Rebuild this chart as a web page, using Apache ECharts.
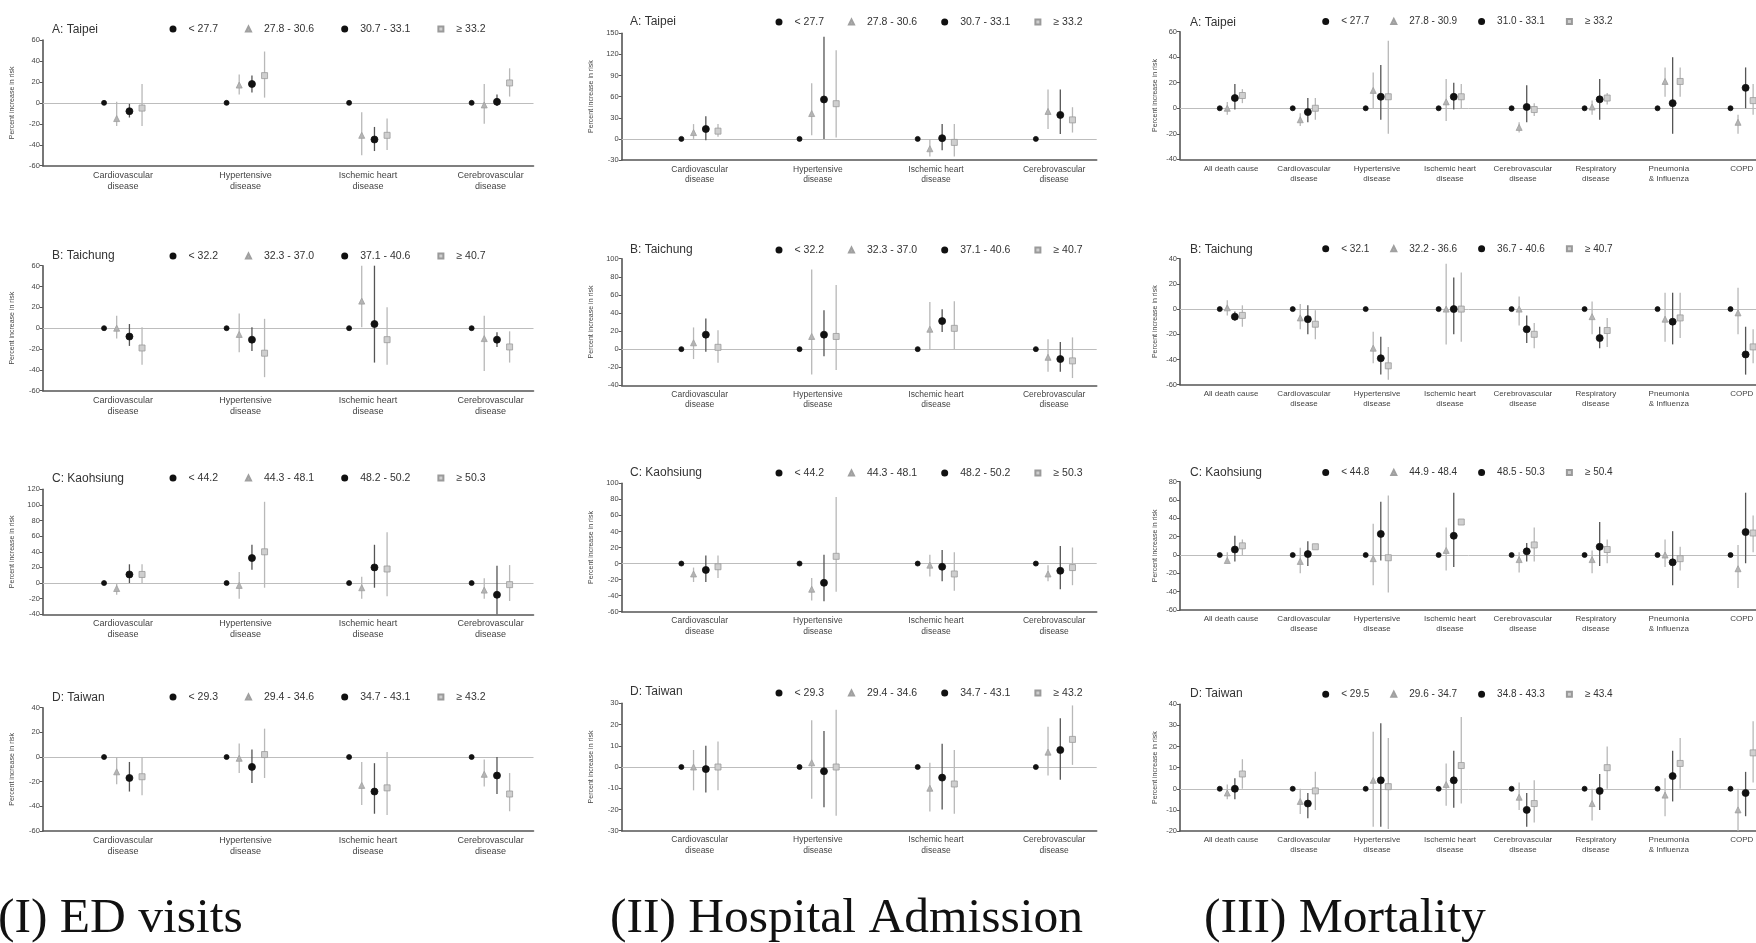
<!DOCTYPE html>
<html>
<head>
<meta charset="utf-8">
<script src="https://cdn.jsdelivr.net/npm/echarts@6/dist/echarts.min.js"></script>
<style>html,body{margin:0;padding:0;background:#fff}#c{width:1756px;height:943px}</style>
</head>
<body>
<div id="c"></div>
<script>
// ---------- categories ----------
const CATS_4 = ['Cardiovascular\ndisease', 'Hypertensive\ndisease', 'Ischemic heart\ndisease', 'Cerebrovascular\ndisease'];
const CATS_8 = ['All death cause', 'Cardiovascular\ndisease', 'Hypertensive\ndisease', 'Ischemic heart\ndisease',
  'Cerebrovascular\ndisease', 'Respiratory\ndisease', 'Pneumonia\n& Influenza', 'COPD'];

// ---------- legend labels (temperature groups) ----------
const LEG_A_ED = ['< 27.7', '27.8 - 30.6', '30.7 - 33.1', '\u2265 33.2'];
const LEG_A_MORT = ['< 27.7', '27.8 - 30.9', '31.0 - 33.1', '\u2265 33.2'];
const LEG_B_ED = ['< 32.2', '32.3 - 37.0', '37.1 - 40.6', '\u2265 40.7'];
const LEG_B_MORT = ['< 32.1', '32.2 - 36.6', '36.7 - 40.6', '\u2265 40.7'];
const LEG_C_ED = ['< 44.2', '44.3 - 48.1', '48.2 - 50.2', '\u2265 50.3'];
const LEG_C_MORT = ['< 44.8', '44.9 - 48.4', '48.5 - 50.3', '\u2265 50.4'];
const LEG_D_ED = ['< 29.3', '29.4 - 34.6', '34.7 - 43.1', '\u2265 43.2'];
const LEG_D_MORT = ['< 29.5', '29.6 - 34.7', '34.8 - 43.3', '\u2265 43.4'];

// ---------- (I) ED visits: estimate / lower / upper, per category [g1,g2,g3,g4] ----------
const ED_A_EST = [[0,-15,-8,-5],[0,17,18,26],[0,-31,-35,-31],[0,-2,1,19]];
const ED_A_LO  = [[null,-22,-14,-22],[null,8,10,5],[null,-50,-46,-45],[null,-20,-3,6]];
const ED_A_HI  = [[null,1,-1,18],[null,27,26,49],[null,-9,-23,-15],[null,18,8,33]];
const ED_B_EST = [[0,0,-8,-19],[0,-6,-11,-24],[0,26,4,-11],[0,-10,-11,-18]];
const ED_B_LO  = [[null,-10,-17,-35],[null,-23,-22,-47],[null,1,-33,-35],[null,-41,-18,-33]];
const ED_B_HI  = [[null,12,4,1],[null,14,1,9],[null,60,60,20],[null,12,-4,-3]];
const ED_C_EST = [[0,-7,11,11],[0,-3,32,40],[0,-6,20,18],[0,-9,-15,-2]];
const ED_C_LO  = [[null,-15,0,0],[null,-20,17,-6],[null,-20,-6,-17],[null,-20,-40,-23]];
const ED_C_HI  = [[null,-1,24,24],[null,14,49,104],[null,8,49,65],[null,6,22,23]];
const ED_D_EST = [[0,-12,-17,-16],[0,-1,-8,2],[0,-23,-28,-25],[0,-14,-15,-30]];
const ED_D_LO  = [[null,-22,-28,-31],[null,-13,-21,-17],[null,-39,-46,-47],[null,-24,-30,-44]];
const ED_D_HI  = [[null,0,-4,0],[null,11,6,23],[null,-4,-5,4],[null,-2,0,-13]];

// ---------- (II) Hospital admission ----------
const HA_A_EST = [[0,9,14,11],[0,36,56,50],[0,-14,1,-5],[0,39,34,27]];
const HA_A_LO  = [[null,0,-2,3],[null,5,0,2],[null,-25,-16,-25],[null,14,7,9]];
const HA_A_HI  = [[null,21,32,21],[null,79,145,126],[null,0,21,21],[null,70,70,45]];
const HA_B_EST = [[0,7,16,2],[0,14,16,14],[0,22,31,23],[0,-9,-11,-13]];
const HA_B_LO  = [[null,-11,-3,-15],[null,-28,-8,-23],[null,-1,19,0],[null,-25,-25,-32]];
const HA_B_HI  = [[null,24,34,21],[null,88,43,71],[null,52,44,53],[null,11,8,13]];
const HA_C_EST = [[0,-13,-8,-4],[0,-32,-24,9],[0,-2,-4,-13],[0,-13,-9,-5]];
const HA_C_LO  = [[null,-23,-23,-18],[null,-46,-47,-35],[null,-16,-22,-34],[null,-22,-32,-27]];
const HA_C_HI  = [[null,-5,10,10],[null,-18,11,83],[null,11,17,14],[null,-2,22,20]];
const HA_D_EST = [[0,0,-1,0],[0,2,-2,0],[0,-10,-5,-8],[0,7,8,13]];
const HA_D_LO  = [[null,-11,-12,-11],[null,-15,-19,-23],[null,-21,-20,-22],[null,-4,-6,1]];
const HA_D_HI  = [[null,8,10,12],[null,22,17,27],[null,2,11,8],[null,19,23,29]];

// ---------- (III) Mortality ----------
const MO_A_EST = [[0,0,8,10],[0,-9,-3,0],[0,14,9,9],[0,5,9,9],[0,-15,1,-1],[0,1,7,8],[0,21,4,21],[0,-11,16,6]];
const MO_A_LO  = [[null,-5,-1,4],[null,-14,-11,-9],[null,0,-9,-20],[null,-10,-1,0],[null,-19,-11,-6],[null,-5,-9,3],[null,9,-20,9],[null,-20,0,-5]];
const MO_A_HI  = [[null,5,19,15],[null,-4,8,8],[null,28,34,53],[null,23,20,19],[null,-11,18,4],[null,6,23,12],[null,32,40,32],[null,-5,32,19]];
const MO_B_EST = [[0,1,-6,-5],[0,-7,-8,-12],[0,-31,-39,-45],[0,0,0,0],[0,0,-16,-20],[0,-6,-23,-17],[0,-8,-10,-7],[0,-3,-36,-30]];
const MO_B_LO  = [[null,-5,-9,-14],[null,-16,-20,-24],[null,-43,-52,-56],[null,-28,-20,-26],[null,-13,-27,-31],[null,-20,-31,-30],[null,-26,-28,-23],[null,-20,-52,-43]];
const MO_B_HI  = [[null,7,-2,3],[null,4,3,-1],[null,-18,-22,-30],[null,36,25,29],[null,10,-5,-11],[null,6,-14,-7],[null,13,13,13],[null,17,-14,-16]];
const MO_C_EST = [[0,-6,6,10],[0,-7,1,9],[0,-4,23,-3],[0,5,21,36],[0,-5,4,11],[0,-5,9,6],[0,0,-8,-4],[0,-15,25,24]];
const MO_C_LO  = [[null,-9,-7,0],[null,-20,-12,7],[null,-33,-6,-41],[null,-17,-13,34],[null,-19,-7,-7],[null,-20,-12,-9],[null,-13,-33,-17],[null,-36,-9,3]];
const MO_C_HI  = [[null,3,21,17],[null,8,15,11],[null,34,58,65],[null,30,68,38],[null,3,13,30],[null,5,36,17],[null,17,26,9],[null,11,68,43]];
const MO_D_EST = [[0,-2,0,7],[0,-6,-7,-1],[0,4,4,1],[0,2,4,11],[0,-4,-10,-7],[0,-7,-1,10],[0,-3,6,12],[0,-10,-2,17]];
const MO_D_LO  = [[null,-5,-5,0],[null,-12,-14,-10],[null,-18,-18,-19],[null,-8,-9,-7],[null,-10,-18,-16],[null,-15,-10,0],[null,-13,-6,0],[null,-20,-13,3]];
const MO_D_HI  = [[null,2,5,14],[null,0,-2,8],[null,27,31,24],[null,12,18,34],[null,3,-2,4],[null,0,7,20],[null,5,18,24],[null,0,8,32]];

// y-axis ranges [min, max, interval]
const Y_RANGES = [
  [[-60,60,20],[-60,60,20],[-40,120,20],[-60,40,20]],
  [[-30,150,30],[-40,100,20],[-60,100,20],[-30,30,10]],
  [[-40,60,20],[-60,40,20],[-60,80,20],[-20,40,10]]
];
const TITLES = ['A: Taipei', 'B: Taichung', 'C: Kaohsiung', 'D: Taiwan'];
const FOOTERS = ['(I) ED visits', '(II) Hospital Admission', '(III) Mortality'];

const PANELS = [
  [[ED_A_EST,ED_A_LO,ED_A_HI,LEG_A_ED],[ED_B_EST,ED_B_LO,ED_B_HI,LEG_B_ED],[ED_C_EST,ED_C_LO,ED_C_HI,LEG_C_ED],[ED_D_EST,ED_D_LO,ED_D_HI,LEG_D_ED]],
  [[HA_A_EST,HA_A_LO,HA_A_HI,LEG_A_ED],[HA_B_EST,HA_B_LO,HA_B_HI,LEG_B_ED],[HA_C_EST,HA_C_LO,HA_C_HI,LEG_C_ED],[HA_D_EST,HA_D_LO,HA_D_HI,LEG_D_ED]],
  [[MO_A_EST,MO_A_LO,MO_A_HI,LEG_A_MORT],[MO_B_EST,MO_B_LO,MO_B_HI,LEG_B_MORT],[MO_C_EST,MO_C_LO,MO_C_HI,LEG_C_MORT],[MO_D_EST,MO_D_LO,MO_D_HI,LEG_D_MORT]]
];
const COL_CATS = [CATS_4, CATS_4, CATS_8];

// ---------- layout & style (not data) ----------
const COLS = [
  {left: 42.8, width: 490.7, xmin: 0.345, xmax: 4.35, titleX: 52, legX: 169, legGap: 26, legFont: 10.5, catFont: 9, nameGap: 27, footX: -2},
  {left: 621.7, width: 475, xmin: 0.34, xmax: 4.36, titleX: 630, legX: 775, legGap: 23, legFont: 10.5, catFont: 8.5, nameGap: 27, footX: 610},
  {left: 1180, width: 591, xmin: 0.30, xmax: 8.40, titleX: 1190, legX: 1321.7, legGap: 20, legFont: 10, catFont: 8, nameGap: 21, footX: 1204}
];
const ROWS = [
  [{top:40,h:125.7,ty:31,ly:26},{top:265.7,h:125,ty:257,ly:253},{top:489.3,h:125,ty:480,ly:475},{top:707.7,h:123.3,ty:699,ly:694}],
  [{top:33.3,h:126.7,ty:22.5,ly:19},{top:258.7,h:126.6,ty:250.5,ly:247},{top:483.3,h:128.4,ty:474,ly:470},{top:703.3,h:127.4,ty:693,ly:690}],
  [{top:31.7,h:127.6,ty:23.5,ly:19},{top:258.7,h:126,ty:250.5,ly:246.3},{top:481.7,h:128.3,ty:474,ly:470},{top:704.3,h:126.7,ty:694.5,ly:691.7}]
];
const OFFS = [-0.155, -0.052, 0.052, 0.155];
const SYM = [
  {symbol:'circle', size:5, color:'#111', border:'#111'},
  {symbol:'triangle', size:6, color:'#b4b4b4', border:'#a0a0a0'},
  {symbol:'circle', size:7, color:'#111', border:'#111'},
  {symbol:'rect', size:6, color:'#cfcfcf', border:'#9a9a9a'}
];
const BARC = ['#111', '#b8b8b8', '#555', '#b8b8b8'];

const grids = [], xAxes = [], yAxes = [], series = [], legends = [], titles = [], graphics = [];
let gi = 0;
for (let c = 0; c < 3; c++) {
  const L = COLS[c];
  const cats = COL_CATS[c];
  for (let r = 0; r < 4; r++) {
    const R = ROWS[c][r];
    const [est, lo, hi, leg] = PANELS[c][r];
    const yr = Y_RANGES[c][r];
    grids.push({left: L.left, top: R.top, width: L.width, height: R.h, containLabel: false, outerBoundsMode: 'none'});
    xAxes.push({
      type: 'value', gridIndex: gi, min: L.xmin, max: L.xmax,
      axisLine: {show: true, onZero: false, lineStyle: {color: '#555', width: 1.6}},
      axisTick: {show: false}, splitLine: {show: false},
      axisLabel: {
        customValues: cats.map((_, i) => i + 1),
        formatter: (v) => cats[Math.round(v) - 1] || '',
        fontSize: L.catFont, lineHeight: L.catFont + 2, color: '#444', margin: 4
      }
    });
    yAxes.push({
      type: 'value', gridIndex: gi, min: yr[0], max: yr[1], interval: yr[2],
      name: 'Percent increase in risk', nameLocation: 'middle', nameGap: L.nameGap,
      nameTextStyle: {fontSize: 7, color: '#444'},
      axisLine: {show: true, onZero: false, lineStyle: {color: '#555', width: 1.6}},
      axisTick: {show: true, length: 3, lineStyle: {color: '#555'}},
      splitLine: {show: false},
      axisLabel: {fontSize: 7.5, color: '#444', margin: 3}
    });
    // error bars
    const bars = [];
    est.forEach((row, ci) => {
      row.forEach((v, g) => {
        if (lo[ci][g] !== null) bars.push([ci + 1 + OFFS[g], lo[ci][g], hi[ci][g], g]);
      });
    });
    series.push({
      type: 'custom', xAxisIndex: gi, yAxisIndex: gi, silent: true, z: 2,
      encode: {x: 0, y: [1, 2]},
      data: bars,
      renderItem: (params, api) => {
        const p1 = api.coord([api.value(0), api.value(1)]);
        const p2 = api.coord([api.value(0), api.value(2)]);
        return {type: 'line', shape: {x1: p1[0], y1: p1[1], x2: p2[0], y2: p2[1]},
          style: {stroke: BARC[api.value(3)], lineWidth: 1.3}};
      }
    });
    // points
    for (let g = 0; g < 4; g++) {
      const s = {
        type: 'scatter', name: leg[g], xAxisIndex: gi, yAxisIndex: gi, silent: true, z: 3,
        symbol: SYM[g].symbol, symbolSize: SYM[g].size,
        itemStyle: {color: SYM[g].color, borderColor: SYM[g].border, borderWidth: 0.8, opacity: 1},
        data: est.map((row, ci) => [ci + 1 + OFFS[g], row[g]])
      };
      if (g === 0) {
        s.markLine = {silent: true, symbol: 'none', label: {show: false}, z: 1,
          lineStyle: {color: '#bdbdbd', type: 'solid', width: 1},
          data: [{yAxis: 0}]};
      }
      series.push(s);
    }
    legends.push({
      data: leg.map(n => ({name: n})), left: L.legX + 0.5, top: R.ly - 2.5, orient: 'horizontal',
      itemWidth: 5, itemHeight: 5, itemGap: L.legGap + 1, padding: 0, selectedMode: false,
      textStyle: {fontSize: L.legFont, color: '#333', padding: [0, 0, 0, 8]}
    });
    titles.push({text: TITLES[r], left: L.titleX, top: R.ty - 7, padding: 0,
      textStyle: {fontSize: 12, fontWeight: 'normal', color: '#333'}});
    gi++;
  }
  graphics.push({type: 'text', left: L.footX, top: 894,
    style: {text: FOOTERS[c], font: '49.5px "Liberation Serif", "Times New Roman", serif', fill: '#111'}});
}

const chart = echarts.init(document.getElementById('c'), null, {renderer: 'canvas'});
chart.setOption({
  animation: false,
  backgroundColor: '#ffffff',
  textStyle: {fontFamily: '"Liberation Sans", Arial, sans-serif'},
  title: titles,
  legend: legends,
  grid: grids,
  xAxis: xAxes,
  yAxis: yAxes,
  series: series,
  graphic: graphics
});
</script>
</body>
</html>
